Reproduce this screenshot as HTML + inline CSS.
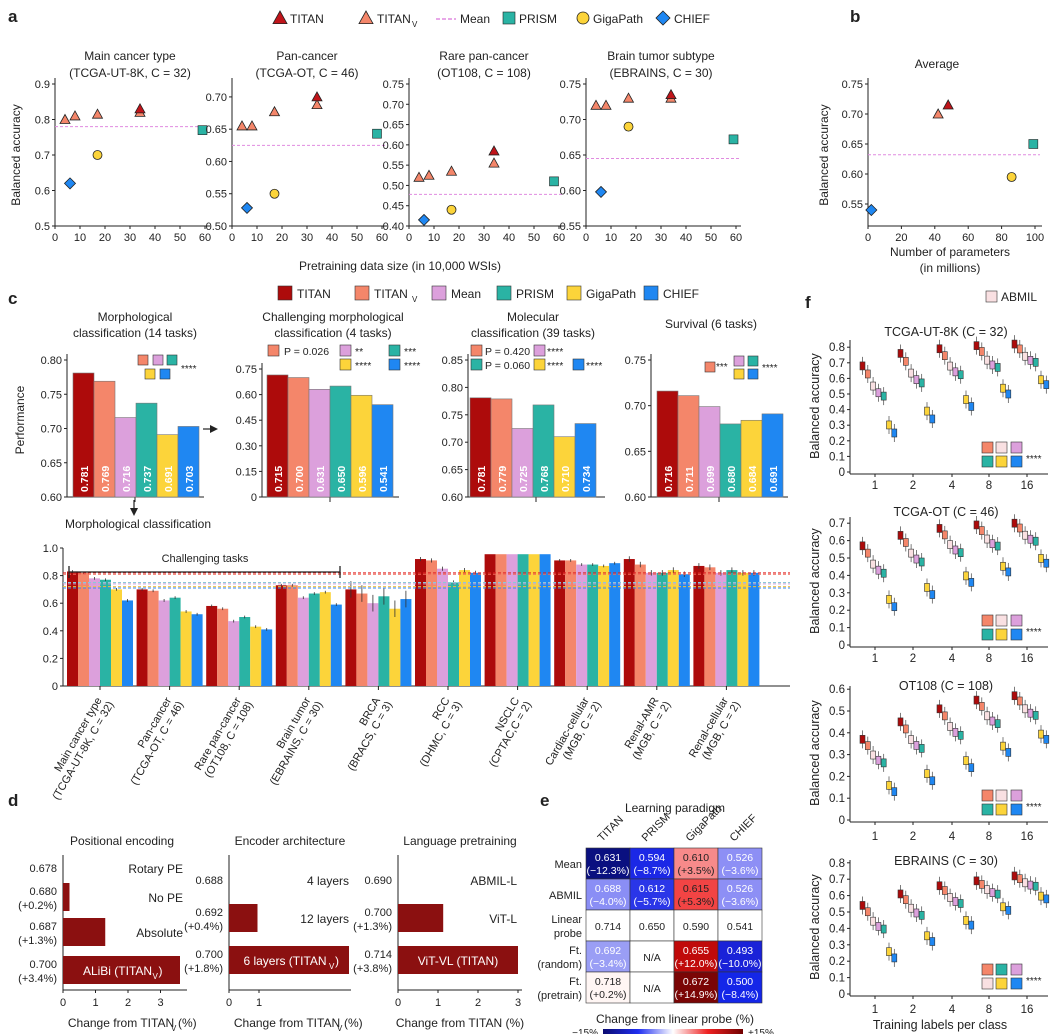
<!DOCTYPE html>
<html><head><meta charset="utf-8"><style>
html,body{margin:0;padding:0;background:#fff}
svg{display:block;font-family:"Liberation Sans",sans-serif}
</style></head><body>
<svg id="s" width="1058" height="1034" viewBox="0 0 1058 1034" xmlns="http://www.w3.org/2000/svg"></svg>
<script>
const S=document.getElementById('s');const NS='http://www.w3.org/2000/svg';
function E(t,a,tx){const e=document.createElementNS(NS,t);for(const k in a)e.setAttribute(k,a[k]);if(tx!==undefined)e.textContent=tx;S.appendChild(e);return e;}
function T(x,y,t,o={}){return E('text',Object.assign({x:x,y:y,'font-size':o.fs||12,fill:o.fill||'#222','text-anchor':o.a||'middle','font-weight':o.fw||'normal'},o.tr?{transform:o.tr}:{}),t);}
function L(x1,y1,x2,y2,c='#222',w=1,d){const a={x1,y1,x2,y2,stroke:c,'stroke-width':w};if(d)a['stroke-dasharray']=d;return E('line',a);}
function R(x,y,w,h,f,st){const a={x,y,width:w,height:h,fill:f};if(st){a.stroke=st;a['stroke-width']=0.6;}return E('rect',a);}
const C={t:'#ad0b0b',v:'#f4866a',m:'#dca0dc',p:'#2ab3a4',g:'#fcd43a',c:'#1f87f2'};
function tri(x,y,f,s=6){E('polygon',{points:`${x},${y-s} ${x-s},${y+s*0.8} ${x+s},${y+s*0.8}`,fill:f,stroke:'#222','stroke-width':0.8});}
function sq(x,y,f,s=5){R(x-s,y-s,2*s,2*s,f,'#222');}
function circ(x,y,f,r=5){E('circle',{cx:x,cy:y,r:r,fill:f,stroke:'#222','stroke-width':0.8});}
function dia(x,y,f,s=6){E('polygon',{points:`${x},${y-s} ${x+s},${y} ${x},${y+s} ${x-s},${y}`,fill:f,stroke:'#222','stroke-width':0.8});}
// ---------- panel a ----------
T(8,22,'a',{fs:17,fw:'bold',a:'start'});
tri(280,18,'#c0141a',7);T(290,23,'TITAN',{a:'start'});
tri(366,18,C.v,7);T(377,23,'TITAN',{a:'start'});T(412,27,'V',{a:'start',fs:8});
L(436,19,456,19,'#e08be0',1.5,'4,2');T(460,23,'Mean',{a:'start'});
sq(509,18,C.p,6);T(519,23,'PRISM',{a:'start'});
circ(583,18,C.g,6);T(593,23,'GigaPath',{a:'start'});
dia(663,18,C.c,7);T(674,23,'CHIEF',{a:'start'});
const subs=[
 {x0:55,t1:'Main cancer type',t2:'(TCGA-UT-8K, C = 32)',lo:0.5,hi:0.9,ticks:[0.5,0.6,0.7,0.8,0.9],dec:1,top:84,
  tv:[[4,.80],[8,.81],[17,.815],[34,.82]],ti:[34,.83],g:[17,.70],c:[6,.62],p:[59,.77],m:.78},
 {x0:232,t1:'Pan-cancer',t2:'(TCGA-OT, C = 46)',lo:0.5,hi:0.72,ticks:[0.5,0.55,0.6,0.65,0.7],dec:2,top:84,
  tv:[[4,.655],[8,.655],[17,.677],[34,.688]],ti:[34,.70],g:[17,.55],c:[6,.528],p:[58,.643],m:.625},
 {x0:409,t1:'Rare pan-cancer',t2:'(OT108, C = 108)',lo:0.4,hi:0.75,ticks:[0.4,0.45,0.5,0.55,0.6,0.65,0.7,0.75],dec:2,top:84,
  tv:[[4,.52],[8,.525],[17,.535],[34,.555]],ti:[34,.585],g:[17,.44],c:[6,.415],p:[58,.51],m:.478},
 {x0:586,t1:'Brain tumor subtype',t2:'(EBRAINS, C = 30)',lo:0.55,hi:0.75,ticks:[0.55,0.6,0.65,0.7,0.75],dec:2,top:84,
  tv:[[4,.72],[8,.72],[17,.73],[34,.73]],ti:[34,.735],g:[17,.69],c:[6,.598],p:[59,.672],m:.645}];
subs.forEach(s=>{
 const X=v=>s.x0+v*2.5,Y=v=>226-(v-s.lo)/(s.hi-s.lo)*(226-s.top);
 T(s.x0+75,60,s.t1);T(s.x0+75,77,s.t2);
 L(s.x0,78,s.x0,226);L(s.x0,226,s.x0+155,226);
 s.ticks.forEach(t=>{L(s.x0-3,Y(t),s.x0,Y(t));T(s.x0-5,Y(t)+4,t.toFixed(s.dec),{a:'end',fs:11});});
 for(let v=0;v<=60;v+=10){L(X(v),226,X(v),229);T(X(v),241,''+v,{fs:11});}
 L(s.x0,Y(s.m),s.x0+155,Y(s.m),'#e08be0',1,'3,2');
 s.tv.forEach(p=>tri(X(p[0]),Y(p[1]),C.v,5));tri(X(s.ti[0]),Y(s.ti[1]),'#c0141a',5);
 circ(X(s.g[0]),Y(s.g[1]),C.g,4.5);dia(X(s.c[0]),Y(s.c[1]),C.c,5.5);sq(X(s.p[0]),Y(s.p[1]),C.p,4.5);
});
T(20,155,'Balanced accuracy',{tr:'rotate(-90 20 155)'});
T(400,270,'Pretraining data size (in 10,000 WSIs)');
// panel b
T(850,22,'b',{fs:17,fw:'bold',a:'start'});T(937,68,'Average');
{const X=v=>868+v*1.67,Y=v=>204-(v-0.55)/0.05*30;
 L(868,78,868,226);L(868,226,1042,226);
 [0.55,0.6,0.65,0.7,0.75].forEach(t=>{L(865,Y(t),868,Y(t));T(863,Y(t)+4,t.toFixed(2),{a:'end',fs:11});});
 [0,20,40,60,80,100].forEach(v=>{L(X(v),226,X(v),229);T(X(v),241,''+v,{fs:11});});
 L(868,Y(.632),1040,Y(.632),'#e08be0',1,'3,2');
 tri(X(48),Y(.715),'#c0141a',5);tri(X(42),Y(.70),C.v,5);circ(X(86),Y(.595),C.g,4.5);dia(X(2),Y(.54),C.c,5.5);sq(X(99),Y(.65),C.p,4.5);
 T(828,155,'Balanced accuracy',{tr:'rotate(-90 828 155)'});T(950,256,'Number of parameters');T(950,272,'(in millions)');}
// ---------- panel c ----------
T(8,304,'c',{fs:17,fw:'bold',a:'start'});
[[278,'TITAN',C.t],[355,'TITAN',C.v],[432,'Mean',C.m],[497,'PRISM',C.p],[567,'GigaPath',C.g],[644,'CHIEF',C.c]].forEach((l,i)=>{
 R(l[0],286,14,14,l[2],'#333');T(l[0]+19,298,l[1],{a:'start'});if(i==1)T(l[0]+57,302,'V',{a:'start',fs:8});});
const cs=['t','v','m','p','g','c'];
const tops=[
 {x0:67,bx:73,lo:.6,hi:.8,top:360,ticks:[.6,.65,.7,.75,.8],v:[.781,.769,.716,.737,.691,.703],t:['Morphological','classification (14 tasks)'],tc:135},
 {x0:262,bx:267,lo:0,hi:.75,top:369,ticks:[0,.15,.3,.45,.6,.75],v:[.715,.700,.631,.650,.596,.541],t:['Challenging morphological','classification (4 tasks)'],tc:333},
 {x0:468,bx:470,lo:.6,hi:.85,top:360,ticks:[.6,.65,.7,.75,.8,.85],v:[.781,.779,.725,.768,.710,.734],t:['Molecular','classification (39 tasks)'],tc:533},
 {x0:651,bx:657,lo:.6,hi:.75,top:360,ticks:[.6,.65,.7,.75],v:[.716,.711,.699,.680,.684,.691],t:['Survival (6 tasks)',''],tc:711}];
tops.forEach((s,k)=>{
 const Y=v=>497-(v-s.lo)/(s.hi-s.lo)*(497-s.top);
 if(s.t[1]){T(s.tc,321,s.t[0]);T(s.tc,337,s.t[1]);}else T(s.tc,328,s.t[0]);
 L(s.x0,s.top-6,s.x0,497);L(s.x0,497,s.x0+137,497);L(s.x0+68,497,s.x0+68,502);
 s.ticks.forEach(t=>{L(s.x0-3,Y(t),s.x0,Y(t));T(s.x0-5,Y(t)+4,t==0?'0':t.toFixed(2),{a:'end',fs:11});});
 s.v.forEach((v,i)=>{const x=s.bx+i*21;R(x,Y(v),21,497-Y(v),C[cs[i]],'#777');
  T(x+15,492,v.toFixed(3),{a:'start',fs:10.5,fw:'bold',fill:'#fff',tr:`rotate(-90 ${x+15} 492)`});});
});
// small legends in top subplots
[[138,C.v],[153,C.m],[167,C.p]].forEach(p=>R(p[0],355,10,10,p[1],'#333'));[[145,C.g],[160,C.c]].forEach(p=>R(p[0],369,10,10,p[1],'#333'));T(181,372,'****',{a:'start',fs:10});
R(268,345,11,11,C.v,'#333');T(284,355,'P = 0.026',{a:'start',fs:10.5});R(340,345,11,11,C.m,'#333');T(355,355,'**',{a:'start',fs:10.5});R(389,345,11,11,C.p,'#333');T(404,355,'***',{a:'start',fs:10.5});
R(340,359,11,11,C.g,'#333');T(355,369,'****',{a:'start',fs:10.5});R(389,359,11,11,C.c,'#333');T(404,369,'****',{a:'start',fs:10.5});
R(471,345,11,11,C.v,'#333');T(485,355,'P = 0.420',{a:'start',fs:10.5});R(534,345,11,11,C.m,'#333');T(547,355,'****',{a:'start',fs:10.5});
R(471,359,11,11,C.p,'#333');T(485,369,'P = 0.060',{a:'start',fs:10.5});R(534,359,11,11,C.g,'#333');T(547,369,'****',{a:'start',fs:10.5});R(573,359,11,11,C.c,'#333');T(586,369,'****',{a:'start',fs:10.5});
R(705,362,10,10,C.v,'#333');T(716,370,'***',{a:'start',fs:10});R(734,356,10,10,C.m,'#333');R(748,356,10,10,C.p,'#333');R(734,369,10,10,C.g,'#333');R(748,369,10,10,C.c,'#333');T(762,371,'****',{a:'start',fs:10});
E('path',{d:'M203,429 L211,429',stroke:'#222','stroke-width':1.2});E('polygon',{points:'218,429 210,425 210,433',fill:'#222'});
L(134,500,134,510,'#222',1.2);E('polygon',{points:'134,516 130,508 138,508',fill:'#222'});
T(138,528,'Morphological classification');
T(24,420,'Performance',{tr:'rotate(-90 24 420)'});
// bottom bar chart
{const Y=v=>686-v*138;const x0=63;
 L(x0,548,x0,686);L(x0,686,790,686);
 [0,.2,.4,.6,.8,1].forEach(t=>{L(x0-3,Y(t),x0,Y(t));T(x0-5,Y(t)+4,t==0?'0':t.toFixed(1),{a:'end',fs:11});});
 const vals=[[.83,.82,.78,.77,.70,.62],[.70,.69,.62,.64,.54,.52],[.58,.56,.47,.50,.43,.41],[.73,.73,.64,.67,.68,.59],[.70,.67,.60,.65,.56,.63],[.92,.91,.85,.75,.84,.82],[.955,.955,.955,.955,.955,.955],[.91,.91,.88,.88,.87,.89],[.92,.88,.82,.82,.84,.81],[.87,.86,.82,.84,.82,.82]];
 const errs=[.01,.01,.01,.01,.01,.015,.02,.01,.02,.02];errs[4]=.06;
 const labs=[['Main cancer type','(TCGA-UT-8K, C = 32)'],['Pan-cancer','(TCGA-OT, C = 46)'],['Rare pan-cancer','(OT108, C = 108)'],['Brain tumor','(EBRAINS, C = 30)'],['BRCA','(BRACS, C = 3)'],['RCC','(DHMC, C = 3)'],['NSCLC','(CPTAC,C = 2)'],['Cardiac-cellular','(MGB, C = 2)'],['Renal-AMR','(MGB, C = 2)'],['Renal-cellular','(MGB, C = 2)']];
 vals.forEach((g,k)=>{const gx=67+k*69.6;g.forEach((v,i)=>{const x=gx+i*11;R(x,Y(v),11,686-Y(v),C[cs[i]]);if(k!=6)L(x+5.5,Y(v+errs[k]),x+5.5,Y(v-errs[k]),'#333',0.8);});
  const cx=gx+33;L(cx,686,cx,690);
  T(cx+2,700,labs[k][0],{a:'end',fs:11,tr:`rotate(-60 ${cx+2} 700)`});T(cx+14,704,labs[k][1],{a:'end',fs:11,tr:`rotate(-60 ${cx+14} 704)`});});
 [[.82,'#e02020'],[.81,'#f06a5a'],[.75,'#8cc8d8'],[.74,'#c8a0d8'],[.72,'#f0c040'],[.71,'#3a8af0']].forEach(l=>L(x0,Y(l[0]),790,Y(l[0]),l[1],1,'3,2'));
 L(69,572,340,572,'#222',1.3);L(69,566,69,578,'#222',1.3);L(340,566,340,578,'#222',1.3);T(205,562,'Challenging tasks',{fs:11});}
// ---------- panel d ----------
T(8,806,'d',{fs:17,fw:'bold',a:'start'});
const ds=[{x0:63,u:32.5,title:'Positional encoding',ttl:122,rows:[['0.678','','Rotary PE',0],['0.680','(+0.2%)','No PE',0.2],['0.687','(+1.3%)','Absolute',1.3],['0.700','(+3.4%)','ALiBi (TITAN',3.6]],xl:'Change from TITAN',sub:'V',ticks:[0,1,2,3]},
 {x0:229,u:30,title:'Encoder architecture',ttl:290,rows:[['0.688','','4 layers',0],['0.692','(+0.4%)','12 layers',0.95],['0.700','(+1.8%)','6 layers (TITAN',4]],xl:'Change from TITAN',sub:'V',ticks:[0,1]},
 {x0:398,u:40,title:'Language pretraining',ttl:460,rows:[['0.690','','ABMIL-L',0],['0.700','(+1.3%)','ViT-L',1.13],['0.714','(+3.8%)','ViT-VL (TITAN)',3]],xl:'Change from TITAN (%)',sub:'',ticks:[0,1,2,3]}];
ds.forEach((d,k)=>{
 T(d.ttl,845,d.title);const n=d.rows.length;const ys=n==4?[868,897,932,970]:[880,918,960];
 L(d.x0,855,d.x0,990);L(d.x0,990,d.x0+(k==1?122:124),990);
 d.ticks.forEach(t=>{const x=d.x0+t*d.u;L(x,990,x,993);T(x,1006,''+t,{fs:11});});
 d.rows.forEach((r,i)=>{const y=ys[i];const last=i==n-1;
  if(r[3]>0){R(d.x0,y-14,r[3]*d.u,28,'#8b1010');}
  if(r[1]){T(d.x0-6,y-2,r[0],{a:'end',fs:11});T(d.x0-6,y+12,r[1],{a:'end',fs:11});}else T(d.x0-6,y+4,r[0],{a:'end',fs:11});
  if(last){const tx=d.x0+(r[3]*d.u)/2;T(tx-(k<2?4:0),y+5,r[2],{fill:'#fff'});if(k<2){T(tx+(k==0?37:46),y+5,')',{fill:'#fff',a:'start'});T(tx+(k==0?31:40),y+9,'V',{fill:'#fff',fs:8,a:'start'});}}
  else T(d.x0+(k==2?119:120),y+5,r[2],{a:'end'});
 });
 T(d.x0+(k==2?62:58),1027,d.xl);if(d.sub){T(d.x0+58+50,1031,d.sub,{fs:8,a:'start'});T(d.x0+58+57,1027,'(%)',{a:'start'});}
});
// ---------- panel e ----------
T(540,806,'e',{fs:17,fw:'bold',a:'start'});T(675,812,'Learning paradigm');
['TITAN','PRISM','GigaPath','CHIEF'].forEach((c,i)=>{const x=602+i*44;T(x,842,c,{a:'start',fs:11,tr:`rotate(-45 ${x} 842)`});});
const ec=[[['#0a1080','0.631','(−12.3%)',1],['#1b28e6','0.594','(−8.7%)',1],['#f78a8a','0.610','(+3.5%)',0],['#8d8ff5','0.526','(−3.6%)',1]],
 [['#8a8ef5','0.688','(−4.0%)',1],['#2a36e8','0.612','(−5.7%)',1],['#f24444','0.615','(+5.3%)',0],['#8d8ff5','0.526','(−3.6%)',1]],
 [['#fff','0.714','',0],['#fff','0.650','',0],['#fff','0.590','',0],['#fff','0.541','',0]],
 [['#9a9ef5','0.692','(−3.4%)',1],['#fff','N/A','',0],['#c00a0a','0.655','(+12.0%)',1],['#1a22d8','0.493','(−10.0%)',1]],
 [['#fff6f4','0.718','(+0.2%)',0],['#fff','N/A','',0],['#7a0505','0.672','(+14.9%)',1],['#1426e8','0.500','(−8.4%)',1]]];
const rl=[['Mean'],['ABMIL'],['Linear','probe'],['Ft.','(random)'],['Ft.','(pretrain)']];
ec.forEach((row,r)=>{const y=848+r*31;
 row.forEach((c,i)=>{const x=586+i*44;R(x,y,44,31,c[0],'#333');const f=c[3]?'#fff':'#222';
  if(c[2]){T(x+22,y+13,c[1],{fs:10.5,fill:f});T(x+22,y+26,c[2],{fs:10.5,fill:f});}else T(x+22,y+20,c[1],{fs:10.5,fill:f});});
 if(rl[r].length==2){T(582,y+13,rl[r][0],{a:'end',fs:11});T(582,y+27,rl[r][1],{a:'end',fs:11});}else T(582,y+20,rl[r][0],{a:'end',fs:11});});
T(675,1023,'Change from linear probe (%)');
const gd=E('linearGradient',{id:'cb',x1:0,x2:1,y1:0,y2:0});
[['0','#0a0a70'],['0.25','#1f2ef0'],['0.5','#ffffff'],['0.75','#ee2020'],['1','#700000']].forEach(s=>{const st=document.createElementNS(NS,'stop');st.setAttribute('offset',s[0]);st.setAttribute('stop-color',s[1]);gd.appendChild(st);});
R(603,1029,140,6,'url(#cb)');T(598,1036,'−15%',{a:'end',fs:10});T(748,1036,'+15%',{a:'start',fs:10});
// ---------- panel f ----------
T(805,308,'f',{fs:17,fw:'bold',a:'start'});R(986,291,11,11,'#f9e0e2','#333');T(1001,301,'ABMIL',{a:'start'});
const fc=[C.t,C.v,'#f9e0e2',C.m,C.p,C.g,C.c];const fr=[0,.12,.3,.4,.45,.88,1];const gxs=[875,913,952,989,1027];
const fs=[{title:'TCGA-UT-8K (C = 32)',ty:336,y0:472,pp:15.6,top:340,lab:489,ticks:[0,.1,.2,.3,.4,.5,.6,.7,.8],st:[.68,.76,.79,.81,.82],en:[.25,.34,.42,.50,.56],lg:0},
 {title:'TCGA-OT (C = 46)',ty:516,y0:645,pp:17.4,top:517,lab:662,ticks:[0,.1,.2,.3,.4,.5,.6,.7],st:[.57,.63,.67,.69,.70],en:[.22,.29,.36,.42,.47],lg:0},
 {title:'OT108 (C = 108)',ty:690,y0:820,pp:21.8,top:686,lab:840,ticks:[0,.1,.2,.3,.4,.5,.6],st:[.37,.45,.51,.55,.57],en:[.13,.18,.24,.31,.37],lg:0},
 {title:'EBRAINS (C = 30)',ty:865,y0:994,pp:16.4,top:860,lab:1013,ticks:[0,.1,.2,.3,.4,.5,.6,.7,.8],st:[.54,.61,.66,.69,.72],en:[.22,.32,.42,.51,.58],lg:1}];
fs.forEach(f=>{const Y=v=>f.y0-v/.1*f.pp;
 T(946,f.ty,f.title,{fs:12.5});L(850,f.top,850,f.y0+2);L(850,f.y0+2,1048,f.y0+2);
 f.ticks.forEach(t=>{L(847,Y(t),850,Y(t));T(845,Y(t)+4,t==0?'0':t.toFixed(1),{a:'end',fs:11.5});});
 ['1','2','4','8','16'].forEach((l,i)=>{L(gxs[i],f.y0+2,gxs[i],f.y0+5);T(gxs[i],f.lab,l,{fs:11.5});});
 gxs.forEach((gx,g)=>{fr.forEach((r,i)=>{const v=f.st[g]-(f.st[g]-f.en[g])*r;const x=gx-15+i*5.3;const y=Y(v);
  L(x+2.5,y-9,x+2.5,y+9,'#444',0.7);R(x,y-4,5,8,fc[i],'#333');});});
 const ly=f.y0-30;const a=f.lg?[C.v,C.p,C.m,'#f9e0e2',C.g,C.c]:[C.v,'#f9e0e2',C.m,C.p,C.g,C.c];
 [982,996,1011].forEach((x,i)=>{R(x,ly,11,11,a[i],'#333');R(x,ly+14,11,11,a[i+3],'#333');});T(1026,ly+20,'****',{a:'start',fs:10});
 const yc=(f.top+f.y0)/2;T(819,yc,'Balanced accuracy',{tr:`rotate(-90 819 ${yc})`,fs:12.5});
});
T(940,1029,'Training labels per class',{fs:12.5});
</script>
</body></html>
